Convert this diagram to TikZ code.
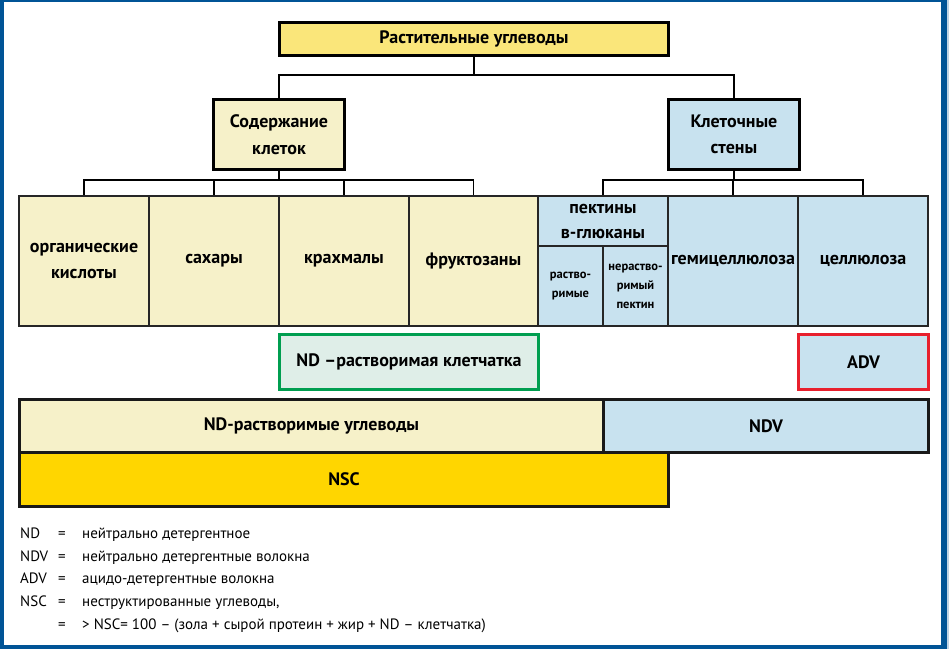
\documentclass[tikz,border=0pt]{standalone}
\usepackage{fontspec}
\setmainfont{PT Sans}
\usetikzlibrary{calc}
\definecolor{frameblue}{RGB}{0,84,150}
\definecolor{rootyellow}{RGB}{250,230,122}
\definecolor{cellyellow}{RGB}{246,241,201}
\definecolor{cellblue}{RGB}{200,226,239}
\definecolor{nscgold}{RGB}{255,214,0}
\definecolor{fibregreen}{RGB}{223,238,232}
\definecolor{linegreen}{RGB}{0,158,80}
\definecolor{linered}{RGB}{232,32,45}

\begin{document}
\begin{tikzpicture}[x=1pt,y=-1pt,
	every node/.style={align=center,inner sep=0pt,anchor=north west,font=\bfseries\fontsize{18}{26.5}\selectfont},
	headbox/.style={draw=black,line width=3pt},
	cell/.style={draw=black!85,line width=2pt,minimum height=130pt},
	smallcell/.style={cell,minimum width=65pt,minimum height=80pt,font=\bfseries\fontsize{12.5}{19}\selectfont},
	bar/.style={draw=black!90,line width=3pt,minimum height=53pt},
	legend/.style={anchor=base west,font=\fontsize{15}{17}\selectfont},
	tree/.style={draw=black,line width=1.3pt}]

	\useasboundingbox (0,0) rectangle (949,649);
	\fill[white] (0,0) rectangle (949,649);

	% frame
	\fill[frameblue] (0,0) rectangle (4,649);
	\fill[frameblue] (0,0) rectangle (949,2);
	\fill[frameblue] (941,0) rectangle (947,649);
	\fill[frameblue] (0,645) rectangle (949,649);
	\fill[frameblue!25] (947,0) rectangle (949,649);

	% tree
	\node[headbox,fill=rootyellow,minimum width=389pt,minimum height=33pt] (root) at (278,21) {Растительные углеводы};
	\node[headbox,fill=cellyellow,minimum width=131pt,minimum height=70pt] (content) at (212,98) {Содержание\\клеток};
	\node[headbox,fill=cellblue,minimum width=131pt,minimum height=70pt] (walls) at (667,98) {Клеточные\\стены};

	\node[cell,fill=cellyellow,minimum width=130pt] (orgacid) at (18,195) {органические\\кислоты};
	\node[cell,fill=cellyellow,minimum width=130pt] (sugar) at (148,195) {сахары};
	\node[cell,fill=cellyellow,minimum width=130pt] (starch) at (278,195) {крахмалы};
	\node[cell,fill=cellyellow,minimum width=129pt] (fructan) at (408,195) {фруктозаны};

	\node[cell,fill=cellblue,minimum width=130pt,minimum height=50pt,font=\bfseries\fontsize{18}{25}\selectfont] (pectin) at (537,195) {пектины\\в-глюканы};
	\node[smallcell,fill=cellblue] (solpect) at (537,245) {раство-\\римые};
	\node[smallcell,fill=cellblue] (insolpect) at (602,245) {нераство-\\римый\\пектин};
	\node[cell,fill=cellblue,minimum width=130pt] (hemicell) at (667,195) {гемицеллюлоза};
	\node[cell,fill=cellblue,minimum width=130pt] (cellul) at (797,195) {целлюлоза};

	\coordinate (bus1) at (472,75);
	\coordinate (bus2) at (278,180);
	\coordinate (bus3) at (732,180);

	\draw[tree] (root.south) -- (root.south |- bus1);
	\draw[tree] (content.north) |- (bus1) -| (walls.north);
	\draw[tree] (content.south) -- (content.south |- bus2);
	\draw[tree] (orgacid.north) |- (bus2) -| (fructan.north);
	\draw[tree] (sugar.north) -- (sugar.north |- bus2);
	\draw[tree] (starch.north) -- (starch.north |- bus2);
	\draw[tree] (walls.south) -- (walls.south |- bus3);
	\draw[tree] (pectin.north) |- (bus3) -| (cellul.north);
	\draw[tree] (hemicell.north) -- (hemicell.north |- bus3);

	% fibre fractions
	\node[draw=linegreen,line width=3pt,fill=fibregreen,minimum width=259pt,minimum height=55pt] (ndfibre) at (278,333) {ND –растворимая клетчатка};
	\node[draw=linered,line width=3pt,fill=cellblue,minimum width=130pt,minimum height=55pt] (adv) at (797,333) {ADV};

	\node[bar,fill=nscgold,minimum width=649pt,minimum height=54pt] (nsc) at (18,451) {NSC};
	\node[bar,fill=cellyellow,minimum width=584pt] (ndsol) at (18,398) {ND-растворимые углеводы};
	\node[bar,fill=cellblue,minimum width=325pt] (ndv) at (602,398) {NDV};

	% legend
	\node[legend] (k1) at (20,538) {ND};
	\node[legend] (e1) at (58,538) {=};
	\node[legend] (t1) at (82,538) {нейтрально детергентное};
	\node[legend] (k2) at (20,561) {NDV};
	\node[legend] (e2) at (58,561) {=};
	\node[legend] (t2) at (82,561) {нейтрально детергентные волокна};
	\node[legend] (k3) at (20,583) {ADV};
	\node[legend] (e3) at (58,583) {=};
	\node[legend] (t3) at (82,583) {ацидо-детергентные волокна};
	\node[legend] (k4) at (20,606) {NSC};
	\node[legend] (e4) at (58,606) {=};
	\node[legend] (t4) at (82,606) {неструктированные углеводы,};
	\node[legend] (e5) at (58,629) {=};
	\node[legend] (t5) at (82,629) {> NSC= 100 – (зола + сырой протеин + жир + ND – клетчатка)};

\end{tikzpicture}
\end{document}
